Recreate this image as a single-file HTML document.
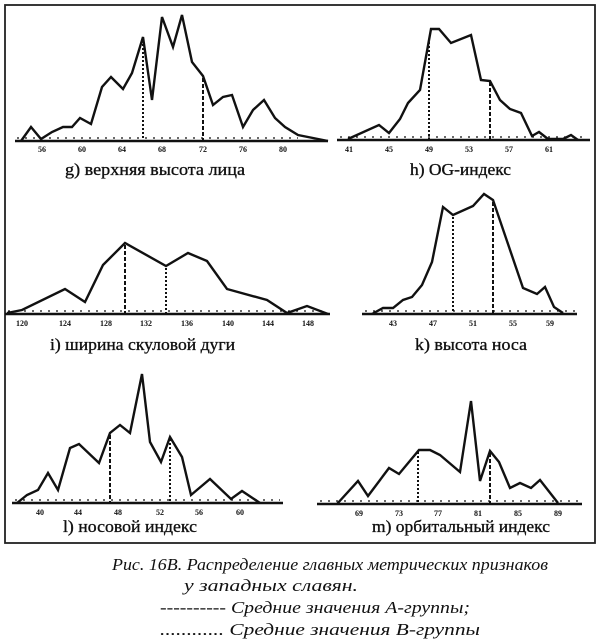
<!DOCTYPE html>
<html><head><meta charset="utf-8"><style>
html,body{margin:0;padding:0;background:#fff;}
svg{display:block;}
.t{font-family:"Liberation Serif",serif;font-size:8px;font-weight:bold;fill:#111;text-anchor:middle;}
.lab{font-family:"Liberation Serif",serif;font-size:17px;fill:#111;stroke:#111;stroke-width:0.35;}
.cap{font-family:"Liberation Serif",serif;font-style:italic;font-size:17px;fill:#111;}
.s{fill:none;stroke:#111;stroke-width:2.4;stroke-linejoin:miter;}
.ax{stroke:#111;stroke-width:2.4;}
.axd{stroke:#111;stroke-width:1.2;stroke-dasharray:2 6;}
.A{stroke:#111;stroke-width:2;stroke-dasharray:4 2;}
.B{stroke:#111;stroke-width:2;stroke-dasharray:2 2;}
</style></head><body>
<svg width="600" height="640" viewBox="0 0 600 640">
<rect x="5" y="5" width="590" height="538" fill="none" stroke="#222" stroke-width="1.8"/>

<!-- g -->
<line class="ax" x1="15" y1="141" x2="300" y2="141"/>
<line class="axd" x1="17" y1="138" x2="298" y2="138"/>
<polyline class="s" points="21,141 31,127 41,139 52,132 63,127 72,127 80,118 91,124 102,87 111,77 123,89 132,73 143,37 152,100 162,17 173,47 182,15 192,62 203,76 213,105 223,97 232,95 243,127 253,110 264,100 275,118 285,127 298,135 328,141"/>
<line class="B" x1="143" y1="40" x2="143" y2="141"/>
<line class="A" x1="203" y1="78" x2="203" y2="141"/>
<g class="t"><text x="42" y="152">56</text><text x="82" y="152">60</text><text x="122" y="152">64</text><text x="162" y="152">68</text><text x="203" y="152">72</text><text x="243" y="152">76</text><text x="283" y="152">80</text></g>
<text class="lab" x="65" y="175" textLength="180" lengthAdjust="spacingAndGlyphs">g) верхняя высота лица</text>

<!-- h -->
<line class="ax" x1="300" y1="141" x2="328" y2="141"/>
<line class="ax" x1="337" y1="140" x2="590" y2="140"/>
<line class="axd" x1="340" y1="137" x2="588" y2="137"/>
<polyline class="s" points="348,139 379,125 389,133 400,119 408,103 420,90 431,29 439,29 451,43 471,35 481,80 490,81 500,100 510,109 521,113 532,136 539,132 548,139 563,139 571,135 578,140"/>
<line class="B" x1="429" y1="42" x2="429" y2="140"/>
<line class="A" x1="490" y1="82" x2="490" y2="140"/>
<g class="t"><text x="349" y="152">41</text><text x="389" y="152">45</text><text x="429" y="152">49</text><text x="469" y="152">53</text><text x="509" y="152">57</text><text x="549" y="152">61</text></g>
<text class="lab" x="410" y="175" textLength="101" lengthAdjust="spacingAndGlyphs">h) OG-индекс</text>

<!-- i -->
<line class="ax" x1="5" y1="314" x2="330" y2="314"/>
<line class="axd" x1="8" y1="311" x2="328" y2="311"/>
<polyline class="s" points="7,313 22,310 65,289 85,302 103,265 125,243 166,266 188,253 207,261 227,289 267,300 287,313 307,306 328,314"/>
<line class="A" x1="125" y1="245" x2="125" y2="314"/>
<line class="B" x1="166" y1="268" x2="166" y2="314"/>
<g class="t"><text x="22" y="326">120</text><text x="65" y="326">124</text><text x="106" y="326">128</text><text x="146" y="326">132</text><text x="187" y="326">136</text><text x="228" y="326">140</text><text x="268" y="326">144</text><text x="308" y="326">148</text></g>
<text class="lab" x="50" y="350" textLength="185" lengthAdjust="spacingAndGlyphs">i) ширина скуловой дуги</text>

<!-- k -->
<line class="ax" x1="362" y1="314" x2="577" y2="314"/>
<line class="axd" x1="365" y1="311" x2="575" y2="311"/>
<polyline class="s" points="372,314 383,308 393,308 403,300 412,297 422,285 432,262 443,207 453,215 473,206 484,194 493,200 523,288 537,294 545,287 554,307 563,313"/>
<line class="B" x1="453" y1="217" x2="453" y2="314"/>
<line class="A" x1="493" y1="202" x2="493" y2="314"/>
<g class="t"><text x="393" y="326">43</text><text x="433" y="326">47</text><text x="473" y="326">51</text><text x="513" y="326">55</text><text x="550" y="326">59</text></g>
<text class="lab" x="415" y="350" textLength="112" lengthAdjust="spacingAndGlyphs">k) высота носа</text>

<!-- l -->
<line class="ax" x1="12" y1="503" x2="283" y2="503"/>
<line class="axd" x1="15" y1="500" x2="280" y2="500"/>
<polyline class="s" points="17,503 27,495 38,490 48,473 58,490 70,448 79,444 99,463 110,433 120,425 130,433 142,374 150,442 161,462 170,437 182,457 191,495 210,479 231,499 242,491 260,503"/>
<line class="A" x1="110" y1="435" x2="110" y2="503"/>
<line class="B" x1="170" y1="439" x2="170" y2="503"/>
<g class="t"><text x="40" y="515">40</text><text x="78" y="515">44</text><text x="118" y="515">48</text><text x="160" y="515">52</text><text x="199" y="515">56</text><text x="240" y="515">60</text></g>
<text class="lab" x="63" y="532" textLength="134" lengthAdjust="spacingAndGlyphs">l) носовой индекс</text>

<!-- m -->
<line class="ax" x1="317" y1="504" x2="582" y2="504"/>
<line class="axd" x1="320" y1="501" x2="580" y2="501"/>
<polyline class="s" points="337,504 358,481 368,496 389,468 399,474 419,450 430,450 440,455 460,472 471,401 480,481 490,451 499,462 510,488 520,483 531,488 540,480 558,503"/>
<line class="B" x1="418" y1="452" x2="418" y2="504"/>
<line class="A" x1="490" y1="453" x2="490" y2="504"/>
<g class="t"><text x="359" y="516">69</text><text x="399" y="516">73</text><text x="438" y="516">77</text><text x="478" y="516">81</text><text x="518" y="516">85</text><text x="558" y="516">89</text></g>
<text class="lab" x="372" y="532" textLength="178" lengthAdjust="spacingAndGlyphs">m) орбитальный индекс</text>

<!-- caption -->
<text class="cap" x="112" y="570" textLength="436" lengthAdjust="spacingAndGlyphs">Рис. 16В. Распределение главных метрических признаков</text>
<text class="cap" x="184" y="591" textLength="174" lengthAdjust="spacingAndGlyphs">у западных славян.</text>
<text class="cap" x="160" y="613" textLength="310" lengthAdjust="spacingAndGlyphs">---------- Средние значения А-группы;</text>
<text class="cap" x="160" y="635" textLength="320" lengthAdjust="spacingAndGlyphs">............ Средние значения В-группы</text>
</svg>
</body></html>
